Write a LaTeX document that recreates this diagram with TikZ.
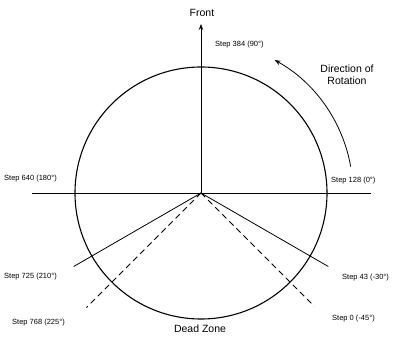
\documentclass[tikz,border=0pt]{standalone}
\usepackage{fontspec}
\setmainfont{Liberation Sans}
\usetikzlibrary{arrows.meta}
\begin{document}
\begin{tikzpicture}[x=1pt,y=1pt,
  small/.style={font=\fontsize{7.5}{9}\selectfont, inner sep=0pt, anchor=west},
  big/.style={font=\fontsize{10.5}{12}\selectfont, inner sep=0pt, align=center},
  ray/.style={line width=0.8pt},
  dray/.style={line width=0.8pt, dash pattern=on 6pt off 4pt},
  tip/.style={-{Stealth[length=6pt,width=4.5pt]}}]
\useasboundingbox (0,0) rectangle (400,338);
\coordinate (c) at (201,145);
\draw[line width=1.1pt] (c) circle[radius=126];
% horizontal axis
\coordinate (hl) at (32,145);
\coordinate (hr) at (371,145);
\draw[ray] (hl) -- (hr);
% front arrow
\coordinate (ftip) at (201,314);
\draw[ray,tip] (c) -- (ftip);
\node[big] (front) at (202,325) {Front};
% rays
\coordinate (r210) at ([shift={(210:147)}]c);
\coordinate (r225) at ([shift={(225:162)}]c);
\coordinate (rm30) at ([shift={(-30:147)}]c);
\coordinate (rm45) at ([shift={(-45:160)}]c);
\draw[ray] (c) -- (r210);
\draw[ray] (c) -- (rm30);
\draw[dray] (c) -- (r225);
\draw[dray] (c) -- (rm45);
% rotation arrow
\coordinate (rs) at ([shift={(10:152)}]c);
\draw[line width=0.8pt,tip] (rs) arc[start angle=10, end angle=61, radius=152];
\node[big] (dir) at (347,263) {Direction of\\Rotation};
% labels
\node[small] (s384) at (215,293) {Step 384 (90°)};
\node[small] (s128) at (331,157) {Step 128 (0°)};
\node[small] (s640) at (4,159) {Step 640 (180°)};
\node[small] (s725) at (4,61) {Step 725 (210°)};
\node[small] (s768) at (12,15) {Step 768 (225°)};
\node[small] (s43) at (342,60) {Step 43 (-30°)};
\node[small] (s0) at (332,19) {Step 0 (-45°)};
\node[big] (dead) at (200,9) {Dead Zone};
\end{tikzpicture}
\end{document}
